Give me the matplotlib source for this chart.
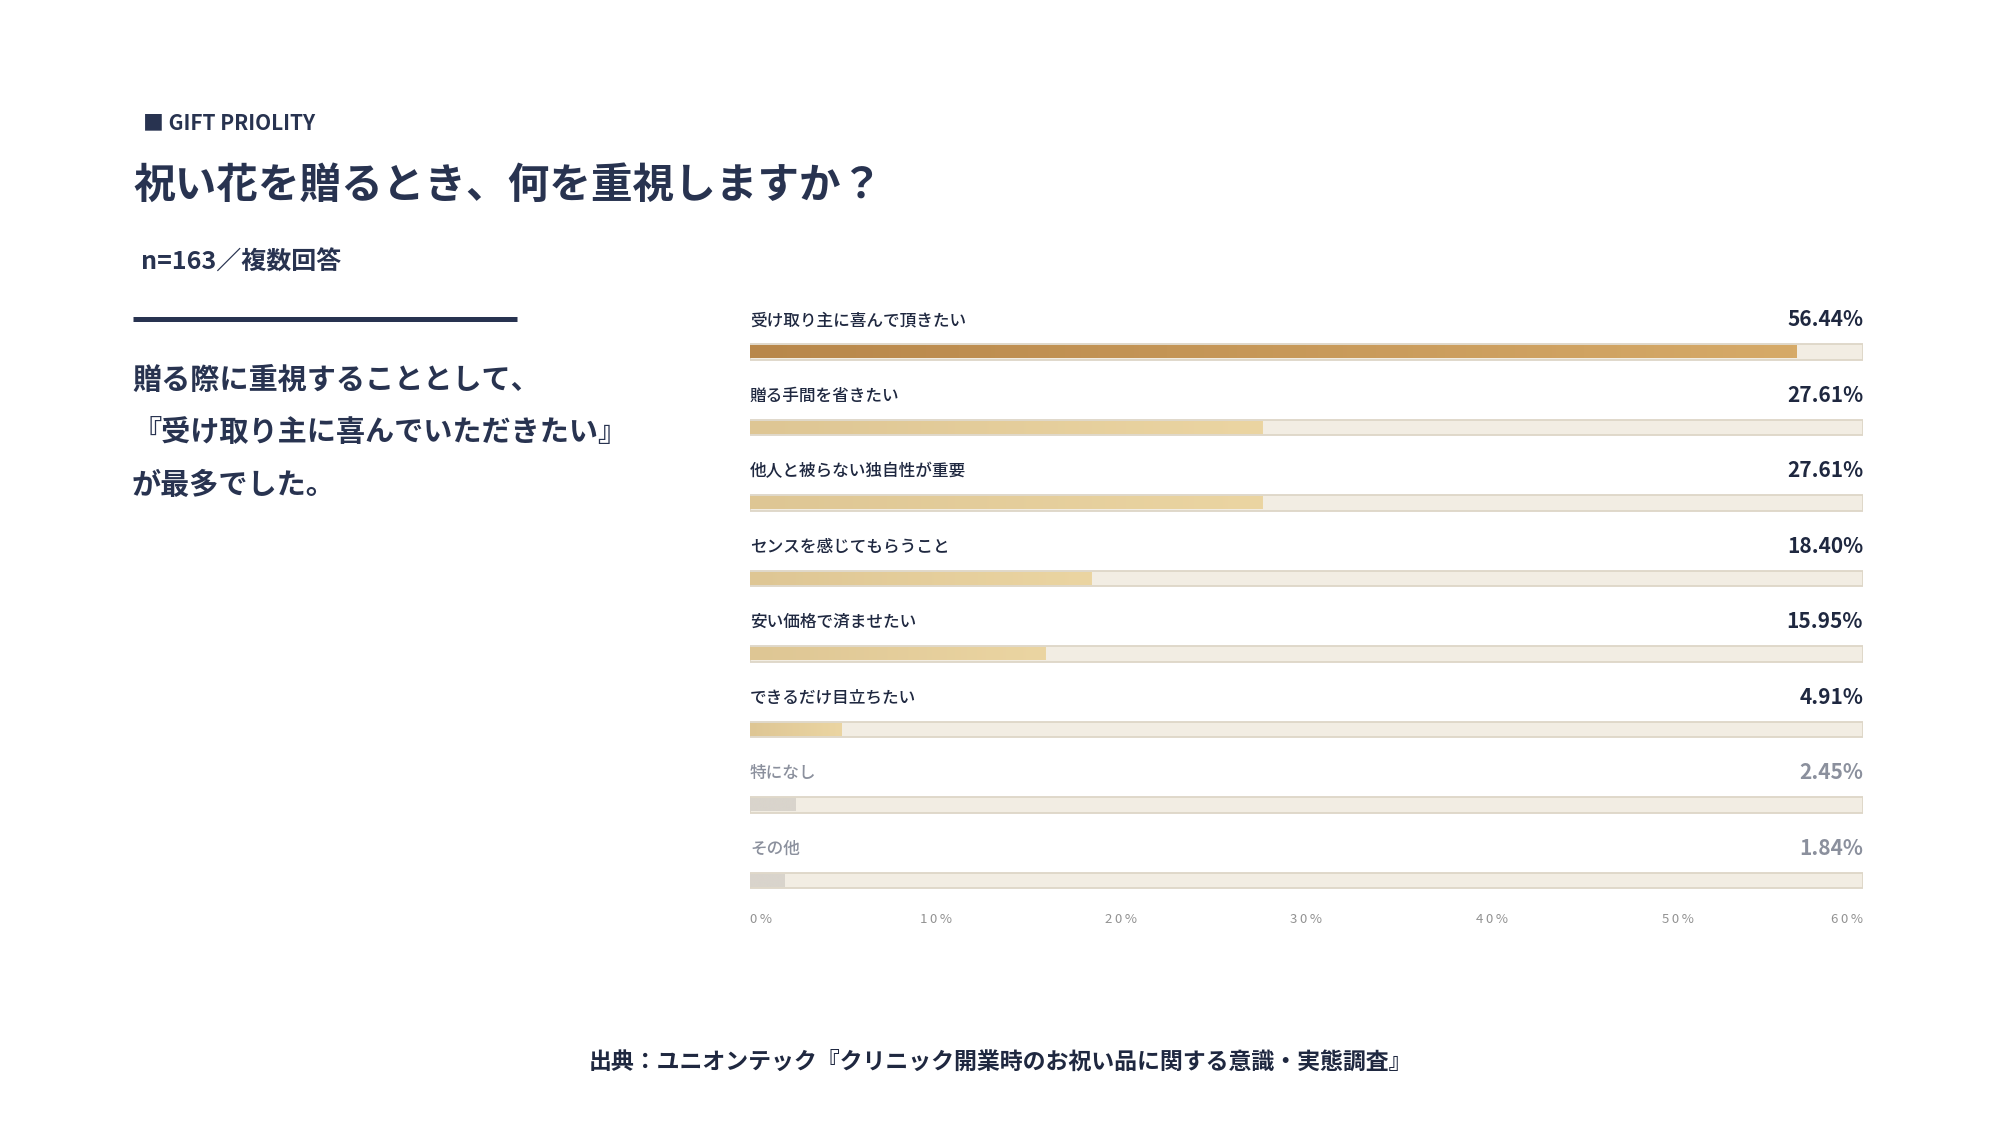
import numpy as np
import matplotlib.pyplot as plt
from matplotlib.colors import LinearSegmentedColormap

plt.rcParams['font.family'] = ['Noto Sans CJK JP', 'DejaVu Sans']

# Survey data
categories = ["受け取り主に喜んで頂きたい", "贈る手間を省きたい", "他人と被らない独自性が重要",
              "センスを感じてもらうこと", "安い価格で済ませたい", "できるだけ目立ちたい",
              "特になし", "その他"]
values = [56.44, 27.61, 27.61, 18.40, 15.95, 4.91, 2.45, 1.84]
muted = ["特になし", "その他"]
tick_values = [0, 10, 20, 30, 40, 50, 60]
tick_labels = ["0%", "10%", "20%", "30%", "40%", "50%", "60%"]

navy = "#283350"
dark_text = "#1f2840"
grey_text = "#8b909d"
track_color = "#f2ede3"
track_edge = "#ddd6c7"

cmap_top = LinearSegmentedColormap.from_list("top", ["#b8874a", "#d6aa68"])
cmap_mid = LinearSegmentedColormap.from_list("mid", ["#dec694", "#ebd5a2"])
cmap_grey = LinearSegmentedColormap.from_list("grey", ["#d9d4cc", "#d9d4cc"])

W, H = 2000, 1125
fig = plt.figure(figsize=(20, 11.25), dpi=100)
fig.patch.set_facecolor("white")


def fx(px):
    return px / W


def fy(py):
    return 1 - py / H


# Left side texts
fig.text(fx(143), fy(123), "■ GIFT PRIOLITY", fontsize=15, fontweight="bold",
         color=navy, va="center", ha="left")
fig.text(fx(133), fy(186), "祝い花を贈るとき、何を重視しますか？", fontsize=30,
         fontweight="bold", color=navy, va="center", ha="left")
fig.text(fx(141), fy(263), "n=163／複数回答", fontsize=18, fontweight="bold",
         color=navy, va="center", ha="left")
fig.add_artist(plt.Line2D([fx(133), fx(517)], [fy(319), fy(319)], color=navy,
                          linewidth=3.6, solid_capstyle="butt"))
body = ["贈る際に重視することとして、", "『受け取り主に喜んでいただきたい』", "が最多でした。"]
for k, line in enumerate(body):
    fig.text(fx(132), fy(380 + 52.5 * k), line, fontsize=21, fontweight="bold",
             color=navy, va="center", ha="left")

fig.text(fx(1000), fy(1062), "出典：ユニオンテック『クリニック開業時のお祝い品に関する意識・実態調査』",
         fontsize=16.5, fontweight="bold", color=dark_text, va="center", ha="center")

# Bar chart area: row i bar centre at 352 + row*i px
row = 75.5
top_px = 352 - 0.8 * row
bot_px = 352 + 7.6 * row
x0_px, x1_px = 750, 1863
ax = fig.add_axes([fx(x0_px), fy(bot_px), fx(x1_px) - fx(x0_px), (bot_px - top_px) / H])
ax.set_xlim(0, 60)
ax.set_ylim(7.6, -0.8)
ax.axis("off")

bar_h = 0.2
grad = np.linspace(0, 1, 256).reshape(1, -1)
for i, (cat, val) in enumerate(zip(categories, values)):
    ax.barh(i, 60, height=bar_h, color=track_color, edgecolor=track_edge,
            linewidth=1.3, zorder=1)
    if cat in muted:
        cmap = cmap_grey
    elif i == 0:
        cmap = cmap_top
    else:
        cmap = cmap_mid
    ax.imshow(grad, cmap=cmap, aspect="auto", zorder=2,
              extent=[0, val, i + bar_h / 2 - 0.02, i - bar_h / 2 + 0.02])
    tc = grey_text if cat in muted else dark_text
    ax.text(0, i - 0.42, cat, fontsize=12, color=tc, va="center", ha="left",
            fontweight="medium")
    ax.text(60, i - 0.43, f"{val:.2f}%", fontsize=15, color=tc,
            va="center", ha="right", fontweight="bold")

for t, lab in zip(tick_values, tick_labels):
    ha = "left" if t == tick_values[0] else ("right" if t == tick_values[-1] else "center")
    ax.text(t, 7.52, "\u2009".join(lab), fontsize=9.5, color="#929292",
            va="center", ha=ha)

ax.set_xlim(0, 60)
ax.set_ylim(7.6, -0.8)

fig.savefig("out.png", dpi=100, facecolor="white")
